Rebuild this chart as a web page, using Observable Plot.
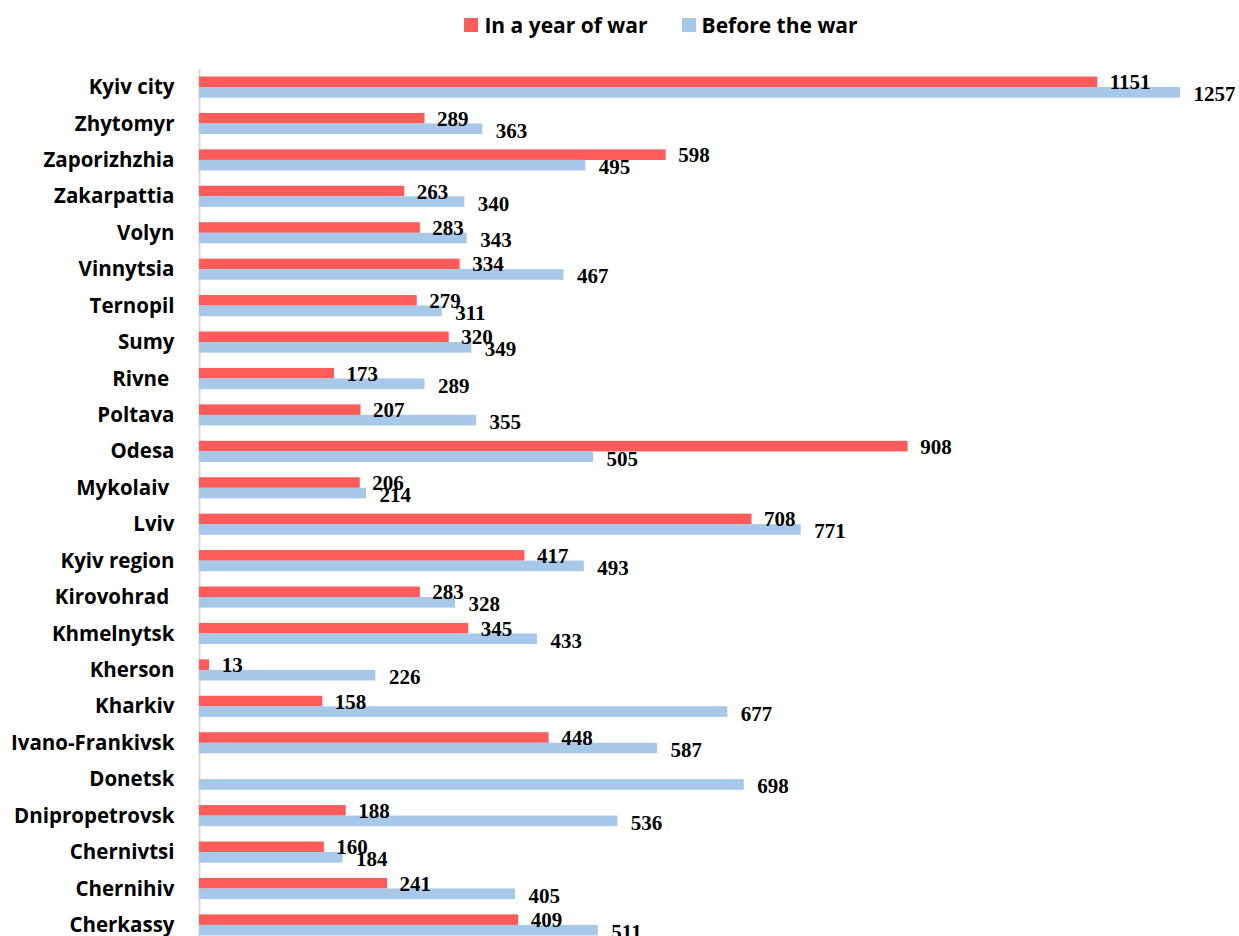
<!DOCTYPE html>
<html>
<head>
<meta charset="utf-8">
<script src="https://cdn.jsdelivr.net/npm/d3@7"></script>
<script src="https://cdn.jsdelivr.net/npm/@observablehq/plot@0.6"></script>
<style>
  html, body { margin: 0; padding: 0; background: #fff; overflow: hidden; }
  #legend { height: 45px; display: flex; justify-content: center; align-items: center; gap: 34px;
    font-family: "Open Sans", sans-serif; font-weight: 700; font-size: 21px; color: #000; padding-left: 83px; box-sizing: border-box; padding-top: 5px; }
  .item { display: flex; align-items: center; gap: 6px; }
  .sw { width: 14px; height: 14px; display: inline-block; }
</style>
</head>
<body>
<div id="legend"></div>
<div id="chart"></div>
<script>
const regions = ["Kyiv city","Zhytomyr","Zaporizhzhia","Zakarpattia","Volyn","Vinnytsia","Ternopil","Sumy","Rivne ","Poltava","Odesa","Mykolaiv ","Lviv","Kyiv region","Kirovohrad ","Khmelnytsk","Kherson","Kharkiv","Ivano-Frankivsk","Donetsk","Dnipropetrovsk","Chernivtsi","Chernihiv","Cherkassy"];
const warValues = [1151,289,598,263,283,334,279,320,173,207,908,206,708,417,283,345,13,158,448,null,188,160,241,409];
const beforeValues = [1257,363,495,340,343,467,311,349,289,355,505,214,771,493,328,433,226,677,587,698,536,184,405,511];
const seriesNames = ["In a year of war","Before the war"];
const colors = ["#fe5b5b","#a7c8e8"];

const legend = document.getElementById("legend");
seriesNames.forEach((s, i) => {
  const it = document.createElement("div");
  it.className = "item";
  it.innerHTML = `<span class="sw" style="background:${colors[i]}"></span><span>${s}</span>`;
  legend.appendChild(it);
});

const data = regions.map((r, i) => ({region: r, war: warValues[i], before: beforeValues[i]}));
const warData = data.filter(d => d.war != null);

const chart = Plot.plot({
  width: 1239,
  height: 891,
  marginLeft: 199,
  marginRight: 0,
  marginTop: 31.5,
  marginBottom: 0.5,
  style: {background: "#fff", overflow: "visible"},
  x: {domain: [0, 1257], range: [199, 1180], axis: null},
  y: {domain: regions, paddingInner: 0.42, paddingOuter: 0, round: false, label: null, tickSize: 0, tickPadding: 25,
      tickFormat: d => d},
  marks: [
    Plot.ruleX([0], {stroke: "#d9d9d9", strokeWidth: 2, insetTop: -7}),
    Plot.barX(warData, {x: "war", y: "region", fill: colors[0], insetBottom: 10.5}),
    Plot.barX(data, {x: "before", y: "region", fill: colors[1], insetTop: 10.5}),
    Plot.text(warData, {x: "war", y: "region", text: d => String(d.war), dx: 12, dy: -5, textAnchor: "start",
      fontFamily: "'Liberation Serif', 'Times New Roman', serif", fontWeight: "bold", fontSize: 21, fill: "#000"}),
    Plot.text(data, {x: "before", y: "region", text: d => String(d.before), dx: 13, dy: 7, textAnchor: "start",
      fontFamily: "'Liberation Serif', 'Times New Roman', serif", fontWeight: "bold", fontSize: 21, fill: "#000"})
  ]
});
chart.style.fontFamily = "'Open Sans', sans-serif";
chart.querySelectorAll("g[aria-label^='y-axis']").forEach(g => {
  g.setAttribute("font-size", "20.5"); g.setAttribute("font-weight", "700"); g.setAttribute("font-family", "'Open Sans', sans-serif");
});
chart.querySelectorAll("g[aria-label^='y-axis'] text").forEach(t => {
  t.style.fontSize = "20.5px"; t.style.fontWeight = "700"; t.style.fill = "#000";
});
document.getElementById("chart").appendChild(chart);
</script>
</body>
</html>
